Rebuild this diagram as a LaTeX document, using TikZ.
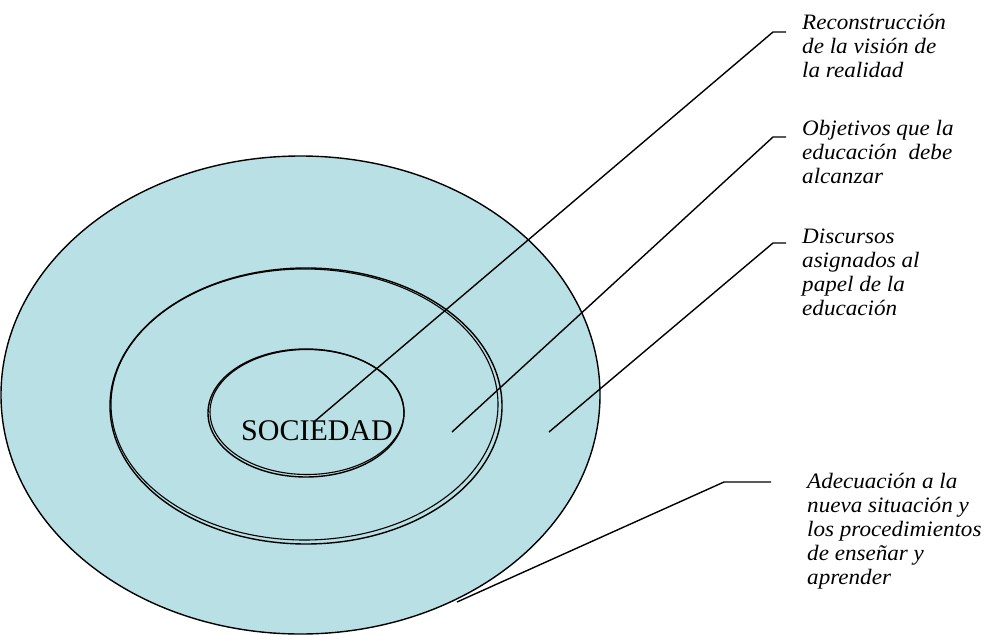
\documentclass[tikz,border=0pt]{standalone}
\usepackage{fontspec}
\setmainfont{Liberation Serif}
\newfontfamily\labfont[FakeStretch=1.05]{Liberation Serif}
\definecolor{teal1}{RGB}{185,224,228}
\begin{document}
\begin{tikzpicture}[x=1pt,y=-1pt,
  ring/.style={draw=black,line width=1.4pt,fill=teal1},
  conn/.style={draw=black,line width=1.4pt},
  lab/.style={anchor=north west,inner sep=0pt,align=left,font=\labfont\itshape\fontsize{22}{24}\selectfont}]
\useasboundingbox (0,0) rectangle (989,635);
% rings
\path[ring] (300.5,395) ellipse [x radius=299.5,y radius=239];
\path[ring] (306,406) ellipse [x radius=196,y radius=138];
\draw[line width=1.1pt] (304.5,404.5) ellipse [x radius=193.5,y radius=135.5];
\path[ring] (306,413) ellipse [x radius=98,y radius=64];
\draw[line width=1.1pt] (307,412) ellipse [x radius=97,y radius=62.5];
\node[font=\fontsize{30}{34}\selectfont,inner sep=0pt] (soc) at (317,431) {SOCIEDAD};
% labels
\node[lab] (l1) at (802,12) {\strut Reconstrucción\\de la visión de\\la realidad};
\node[lab] (l2) at (802,118) {\strut Objetivos que la\\educación~ debe\\alcanzar};
\node[lab] (l3) at (802,226) {\strut Discursos\\asignados al\\papel de la\\educación};
\node[lab] (l4) at (807,471) {\strut Adecuación a la\\nueva situación y\\los procedimientos\\de enseñar y\\aprender};
% connector points
\coordinate (s1) at (315,421); \coordinate (k1) at (773,32); \coordinate (e1) at (786,32);
\coordinate (s2) at (452,432); \coordinate (k2) at (773,137); \coordinate (e2) at (786,137);
\coordinate (s3) at (549,432); \coordinate (k3) at (773,243); \coordinate (e3) at (786,243);
\coordinate (s4) at (457,602); \coordinate (k4) at (724,482); \coordinate (e4) at (771,482);
\draw[conn] (s1) -- (k1) -- (e1);
\draw[conn] (s2) -- (k2) -- (e2);
\draw[conn] (s3) -- (k3) -- (e3);
\draw[conn] (s4) -- (k4) -- (e4);
\end{tikzpicture}
\end{document}
